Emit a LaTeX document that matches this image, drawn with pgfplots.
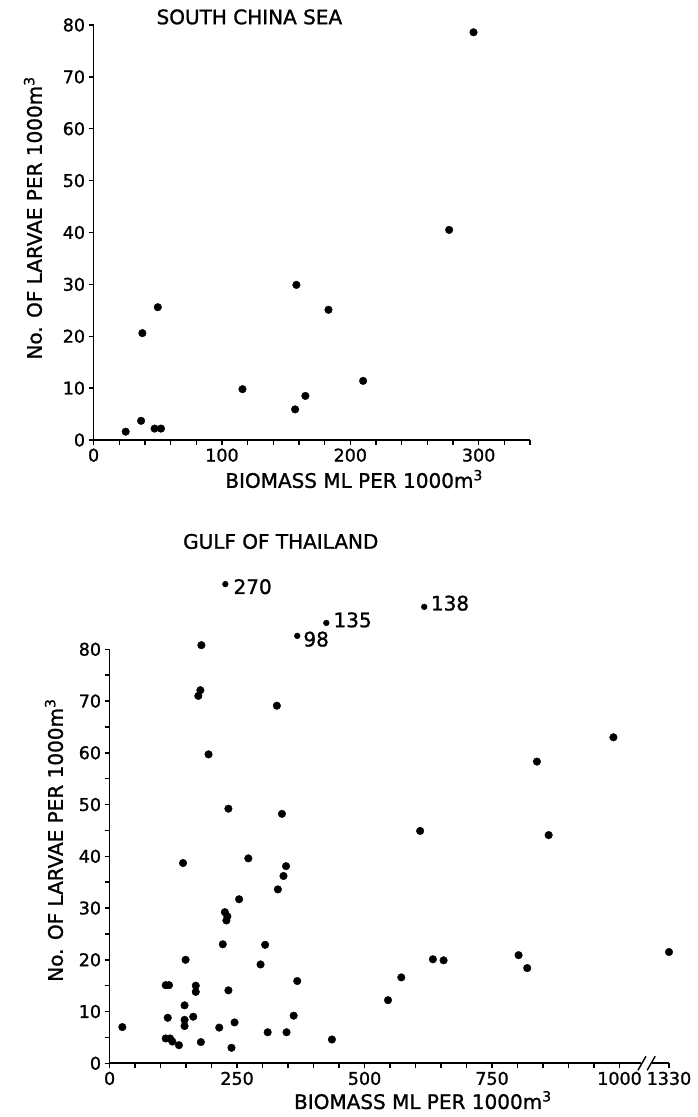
\documentclass[border=0pt]{standalone}
\usepackage{fontspec}
\setmainfont{DejaVu Sans}[FakeBold=1.2, AutoFakeBold=1.2]
\usepackage{pgfplots}
\pgfplotsset{compat=1.18}
\pgfplotstableread{
x y
25 1.6
37 3.7
38 20.6
50 25.6
47.5 2.2
52.5 2.2
116 9.8
158 29.9
157 5.9
165 8.5
183 25.1
210 11.4
277 40.5
296 78.6
}\scs
\pgfplotstableread{
x y
25 7.0
110 4.8
118.5 4.8
123 4.2
136 3.5
110 15.1
116.5 15.1
114 8.8
144 38.7
149 20.0
147 11.2
147 8.4
147 7.2
164 9.0
169 15.0
169 13.8
179 4.1
174 71.0
178 72.1
180 80.8
194 59.7
215 6.9
222 23.0
226 29.2
231 28.4
229 27.6
233 49.2
233 14.1
239 3.0
245 7.9
254 31.7
272 39.6
296 19.1
305 22.9
310 6.0
328 69.1
330 33.6
338 48.2
341 36.2
346 38.1
347 6.0
361 9.2
368 15.9
436 4.6
546 12.2
572 16.6
609 44.9
634 20.1
655 19.9
802 20.9
819 18.4
838 58.3
861 44.1
988 63.0
1097 21.5
}\gulf
\pgfplotstableread{
x y
227 92.6
425 85.1
368 82.6
617 88.2
}\offscale
\begin{document}
\begin{tikzpicture}
\useasboundingbox (0pt,0pt) rectangle (698pt,1117pt);
\pgfplotsset{
  myaxis/.style={
    scale only axis,
    anchor=south west,
    axis x line*=bottom, axis y line*=left,
    axis line style={line width=1.6pt, black, -},
    tick style={line width=1.4pt, black},
    tick align=outside,
    major tick length=5pt, minor tick length=5pt,
    ymin=0, ymax=80,
    ytick={0,10,...,80},
    clip=false,
    tick label style={font=\fontsize{17.5}{19}\selectfont},
    /pgf/number format/assume math mode=true,
    label style={font=\fontsize{20}{22}\selectfont},
    title style={font=\fontsize{20}{22}\selectfont, anchor=center},
  },
  dots/.style={only marks, mark=*, mark size=3.8pt, black},
}
\begin{axis}[myaxis, at={(93.6pt,677pt)}, width=436.4pt, height=415pt,
  xmin=0, xmax=340, xtick={0,100,200,300}, minor xtick={20,40,...,340},
  title={SOUTH CHINA SEA}, title style={at={(0.357,1.005)}},
  xlabel={BIOMASS ML PER 1000m\textsuperscript{3}},
  xlabel style={at={(0.597,-0.094)}, anchor=center},
  ylabel={No. OF LARVAE PER 1000m\textsuperscript{3}},
  ylabel style={at={(-0.139,0.535)}, anchor=center},
]
\addplot[dots] table[x=x,y=y] {\scs};
\end{axis}
\begin{axis}[myaxis, at={(109.6pt,53.7pt)}, width=559.4pt, height=414pt,
  xmin=0, xmax=1097, xtick={0,250,500,750,1000,1097},
  xticklabels={0,250,500,750,1000,1330},
  minor xtick={50,100,...,950}, minor ytick={5,15,...,75},
  title={GULF OF THAILAND}, title style={at={(0.306,1.246)}},
  xlabel={BIOMASS ML PER 1000m\textsuperscript{3}},
  xlabel style={at={(0.56,-0.089)}, anchor=center},
  ylabel={No. OF LARVAE PER 1000m\textsuperscript{3}},
  ylabel style={at={(-0.0994,0.539)}, anchor=center},
]
\addplot[dots] table[x=x,y=y] {\gulf};
\addplot[only marks, mark=*, mark size=2.9pt, black] table[x=x,y=y] {\offscale};
\node[anchor=west, font=\fontsize{20}{22}\selectfont, inner sep=0pt] at ([xshift=8pt,yshift=-2.6pt]axis cs:227,92.6) {270};
\node[anchor=west, font=\fontsize{20}{22}\selectfont, inner sep=0pt] at ([xshift=7pt,yshift=3pt]axis cs:425,85.1) {135};
\node[anchor=west, font=\fontsize{20}{22}\selectfont, inner sep=0pt] at ([xshift=6pt,yshift=-3.3pt]axis cs:368,82.6) {98};
\node[anchor=west, font=\fontsize{20}{22}\selectfont, inner sep=0pt] at ([xshift=6.5pt,yshift=3.7pt]axis cs:617,88.2) {138};
\fill[white] ([yshift=-4pt]axis cs:1042,0) rectangle ([yshift=4pt]axis cs:1064,0);
\draw[line width=1.4pt] ([xshift=-4pt,yshift=-7pt]axis cs:1044,0) -- ([xshift=4pt,yshift=7pt]axis cs:1044,0);
\draw[line width=1.4pt] ([xshift=-4pt,yshift=-7pt]axis cs:1062,0) -- ([xshift=4pt,yshift=7pt]axis cs:1062,0);
\end{axis}
\end{tikzpicture}
\end{document}
